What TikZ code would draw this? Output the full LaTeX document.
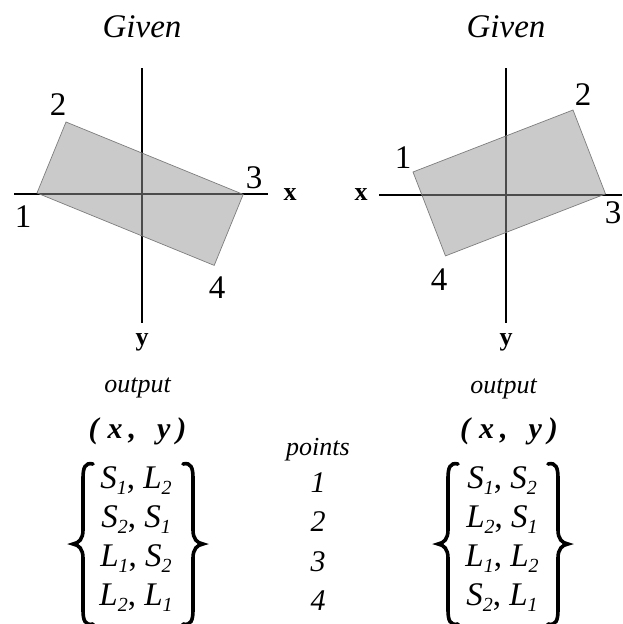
\documentclass[tikz,border=0pt]{standalone}
\usepackage{fontspec}
\setmainfont{Liberation Serif}
\newcommand{\sbs}[1]{\raisebox{-0.2em}{\fontsize{20}{20}\selectfont\itshape #1}}
\newcommand{\ent}[4]{\textit{#1}\sbs{#2}, \textit{#3}\sbs{#4}}
\tikzset{
  axisline/.style={line width=1.4pt},
  plate/.style={fill={rgb,255:red,150;green,150;blue,150}, fill opacity=0.5, draw={rgb,255:red,125;green,125;blue,125}, line width=0.7pt},
  cornerlbl/.style={font=\fontsize{33}{38}\selectfont, inner sep=0pt},
  axlbl/.style={font=\fontsize{26}{30}\selectfont\bfseries, inner sep=0pt},
  titlelbl/.style={font=\fontsize{33}{38}\selectfont\itshape, inner sep=0pt, anchor=base},
  outlbl/.style={font=\fontsize{26}{30}\selectfont\itshape, inner sep=0pt, anchor=base},
  xylbl/.style={font=\fontsize{30}{34}\selectfont\bfseries\itshape, inner sep=0pt, anchor=base},
  entry/.style={font=\fontsize{33}{38}\selectfont, inner sep=0pt, anchor=base},
  numlbl/.style={font=\fontsize{30}{34}\selectfont\itshape, inner sep=0pt, anchor=base},
  bracepath/.style={line width=3.6pt, line cap=round},
  leftbrace/.pic={\draw[bracepath] (20,-80) .. controls (12,-82) and (10,-76) .. (10,-66) -- (10,-14) .. controls (10,-5) and (6,-1) .. (0,0) .. controls (6,1) and (10,5) .. (10,14) -- (10,66) .. controls (10,76) and (12,82) .. (20,80);},
  rightbrace/.pic={\draw[bracepath] (-20,-80) .. controls (-12,-82) and (-10,-76) .. (-10,-66) -- (-10,-14) .. controls (-10,-5) and (-6,-1) .. (0,0) .. controls (-6,1) and (-10,5) .. (-10,14) -- (-10,66) .. controls (-10,76) and (-12,82) .. (-20,80);}
}
\begin{document}
\begin{tikzpicture}[x=1pt,y=-1pt]
\useasboundingbox (0,0) rectangle (622,624);
% ---------- left panel ----------
\node[titlelbl] (gL) at (142,37) {Given};
\coordinate (hLa) at (14,194);
\coordinate (hLb) at (268,194);
\coordinate (vLa) at (142,68);
\coordinate (vLb) at (142,323);
\draw[axisline] (hLa) -- (hLb);
\draw[axisline] (vLa) -- (vLb);
\coordinate (L1) at (37,193);
\coordinate (L2) at (66,122);
\coordinate (L3) at (243.2,194.4);
\coordinate (L4) at (214.2,265.4);
\draw[plate] (L1) -- (L2) -- (L3) -- (L4) -- cycle;
\node[cornerlbl] (nL1) at (23,217) {1};
\node[cornerlbl] (nL2) at (58,105) {2};
\node[cornerlbl] (nL3) at (254,178) {3};
\node[cornerlbl] (nL4) at (217,288) {4};
\node[axlbl] (xL) at (290,195) {x};
\node[axlbl, anchor=base] (yL) at (142,345) {y};
% ---------- right panel ----------
\node[titlelbl] (gR) at (506,37) {Given};
\coordinate (hRa) at (379,195);
\coordinate (hRb) at (622,195);
\coordinate (vRa) at (506,68);
\coordinate (vRb) at (506,323);
\draw[axisline] (hRa) -- (hRb);
\draw[axisline] (vRa) -- (vRb);
\coordinate (R1) at (413,172);
\coordinate (R2) at (573,110);
\coordinate (R3) at (605.5,193.9);
\coordinate (R4) at (445.5,255.9);
\draw[plate] (R1) -- (R2) -- (R3) -- (R4) -- cycle;
\node[cornerlbl] (nR1) at (403,158) {1};
\node[cornerlbl] (nR2) at (583,95) {2};
\node[cornerlbl] (nR3) at (613,213) {3};
\node[cornerlbl] (nR4) at (439,280) {4};
\node[axlbl] (xR) at (361,195) {x};
\node[axlbl, anchor=base] (yR) at (506,345) {y};
% ---------- bottom left ----------
\node[outlbl] (oL) at (137.5,392) {output};
\node[xylbl] (cL) at (137.5,438) {(\hspace{0.3em}x\hspace{0.2em},\hspace{0.7em}y\hspace{0.2em})};
\node[entry] (eL1) at (136,488) {\ent{S}{1}{L}{2}};
\node[entry] (eL2) at (136,527) {\ent{S}{2}{S}{1}};
\node[entry] (eL3) at (136,566) {\ent{L}{1}{S}{2}};
\node[entry] (eL4) at (136,605) {\ent{L}{2}{L}{1}};
\pic at (73,544) {leftbrace};
\pic at (203,544) {rightbrace};
% ---------- middle ----------
\node[outlbl] (pts) at (318,455) {points};
\node[numlbl] (p1) at (318,492) {1};
\node[numlbl] (p2) at (318,531) {2};
\node[numlbl] (p3) at (318,571) {3};
\node[numlbl] (p4) at (318,610) {4};
% ---------- bottom right ----------
\node[outlbl] (oR) at (503.5,393) {output};
\node[xylbl] (cR) at (509,438) {(\hspace{0.3em}x\hspace{0.2em},\hspace{0.7em}y\hspace{0.2em})};
\node[entry] (eR1) at (502,488) {\ent{S}{1}{S}{2}};
\node[entry] (eR2) at (502,527) {\ent{L}{2}{S}{1}};
\node[entry] (eR3) at (502,566) {\ent{L}{1}{L}{2}};
\node[entry] (eR4) at (502,605) {\ent{S}{2}{L}{1}};
\pic at (438,544) {leftbrace};
\pic at (568,544) {rightbrace};
\end{tikzpicture}
\end{document}
